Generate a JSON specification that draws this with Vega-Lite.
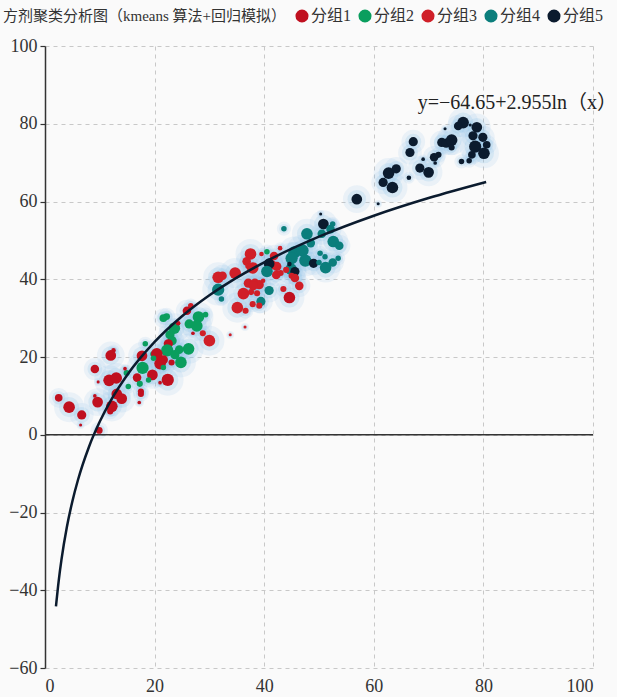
{
  "$schema": "https://vega.github.io/schema/vega-lite/v6.json",
  "width": 548,
  "height": 622,
  "autosize": {"type": "none"},
  "padding": {"left": 45, "top": 46, "right": 24, "bottom": 29},
  "background": "#fafafa",
  "config": {
    "font": "Liberation Serif, Noto Sans CJK SC",
    "view": {"stroke": null},
    "axisX": {"grid": true, "gridColor": "#c8c8c8", "gridDash": [4, 4], "domain": false, "ticks": false, "labelFontSize": 18, "labelColor": "#333333", "labelPadding": 9},
    "axisY": {"grid": true, "gridColor": "#c8c8c8", "gridDash": [4, 4], "domain": true, "domainColor": "#333333", "domainWidth": 1.5, "ticks": true, "tickColor": "#333333", "tickSize": 5, "tickWidth": 1.2, "labelFontSize": 18, "labelColor": "#333333", "labelPadding": 3}
  },
  "datasets": {
    "pts": [
      {"x":12.5,"y":21.7,"g":"分组1","w":1.5},{"x":12.0,"y":20.4,"g":"分组1","w":3.5},{"x":18.3,"y":23.4,"g":"分组2","w":1.8},{"x":17.7,"y":20.3,"g":"分组1","w":3.5},
      {"x":19.7,"y":20.8,"g":"分组2","w":1.8},{"x":17.8,"y":17.2,"g":"分组2","w":4},{"x":9.1,"y":16.9,"g":"分组1","w":2.8},{"x":11.7,"y":14.0,"g":"分组1","w":3.8},
      {"x":13.0,"y":14.6,"g":"分组1","w":3.8},{"x":9.7,"y":13.6,"g":"分组1","w":1},{"x":14.9,"y":15.9,"g":"分组2","w":2},{"x":15.2,"y":12.4,"g":"分组2","w":1.8},
      {"x":16.8,"y":14.7,"g":"分组1","w":2.8},{"x":19.6,"y":15.4,"g":"分组1","w":3.5},{"x":17.3,"y":13.1,"g":"分组2","w":2},{"x":17.5,"y":11.1,"g":"分组1","w":2},
      {"x":17.5,"y":10.5,"g":"分组1","w":2},{"x":13.1,"y":10.5,"g":"分组1","w":3.5},{"x":14.0,"y":9.3,"g":"分组1","w":3.5},{"x":9.1,"y":10.0,"g":"分组1","w":1.2},
      {"x":2.5,"y":9.5,"g":"分组1","w":2.5},{"x":9.6,"y":8.4,"g":"分组1","w":3.5},{"x":4.4,"y":7.1,"g":"分组1","w":3.8},{"x":12.2,"y":7.3,"g":"分组1","w":3.8},
      {"x":6.7,"y":5.1,"g":"分组1","w":3},{"x":6.5,"y":2.5,"g":"分组1","w":1},{"x":11.9,"y":6.0,"g":"分组1","w":2},{"x":9.9,"y":1.1,"g":"分组1","w":2.2},
      {"x":17.2,"y":8.3,"g":"分组1","w":1.2},{"x":26.6,"y":33.2,"g":"分组3","w":1.8},{"x":25.9,"y":31.9,"g":"分组1","w":2.8},{"x":28.0,"y":30.3,"g":"分组2","w":3.8},
      {"x":29.3,"y":30.9,"g":"分组2","w":1.8},{"x":22.2,"y":30.4,"g":"分组2","w":2.2},{"x":21.6,"y":30.0,"g":"分组2","w":2.5},{"x":26.3,"y":28.5,"g":"分组2","w":3},
      {"x":27.7,"y":28.0,"g":"分组2","w":3.8},{"x":23.6,"y":27.4,"g":"分组2","w":3.8},{"x":24.3,"y":28.7,"g":"分组1","w":1.5},{"x":22.8,"y":25.7,"g":"分组2","w":3},
      {"x":23.2,"y":24.2,"g":"分组2","w":3},{"x":22.5,"y":23.4,"g":"分组1","w":3},{"x":27.0,"y":26.1,"g":"分组1","w":1.2},{"x":28.8,"y":26.1,"g":"分组3","w":2},
      {"x":30.0,"y":24.2,"g":"分组3","w":3.8},{"x":26.2,"y":22.1,"g":"分组2","w":3.8},{"x":24.5,"y":21.9,"g":"分组2","w":2.8},{"x":22.3,"y":21.7,"g":"分组2","w":4},
      {"x":23.7,"y":20.6,"g":"分组2","w":3},{"x":20.4,"y":20.8,"g":"分组1","w":3.8},{"x":21.6,"y":19.3,"g":"分组1","w":3},{"x":21.0,"y":18.3,"g":"分组1","w":3.8},
      {"x":23.1,"y":18.6,"g":"分组1","w":2},{"x":24.8,"y":18.6,"g":"分组2","w":3.8},{"x":19.8,"y":19.7,"g":"分组2","w":1.8},{"x":21.6,"y":17.3,"g":"分组2","w":1.8},
      {"x":22.4,"y":14.1,"g":"分组1","w":4},{"x":18.9,"y":14.1,"g":"分组2","w":1.8},{"x":21.0,"y":13.4,"g":"分组1","w":1.2},{"x":14.6,"y":17.0,"g":"分组1","w":1.2},
      {"x":37.5,"y":46.5,"g":"分组3","w":3.8},{"x":40.5,"y":47.1,"g":"分组2","w":1.8},{"x":39.5,"y":46.5,"g":"分组3","w":1.5},{"x":42.9,"y":48.0,"g":"分组3","w":1.5},
      {"x":41.8,"y":46.0,"g":"分组3","w":2.8},{"x":45.5,"y":46.9,"g":"分组4","w":4},{"x":47.0,"y":47.4,"g":"分组4","w":4},{"x":47.5,"y":44.8,"g":"分组4","w":4},
      {"x":45.0,"y":45.4,"g":"分组4","w":4},{"x":36.8,"y":44.6,"g":"分组3","w":2.8},{"x":37.1,"y":43.4,"g":"分组3","w":2},{"x":37.9,"y":42.9,"g":"分组3","w":3.8},
      {"x":41.4,"y":43.7,"g":"分组3","w":3},{"x":42.3,"y":43.3,"g":"分组3","w":3},{"x":40.9,"y":44.0,"g":"分组5","w":3.5},{"x":40.5,"y":42.0,"g":"分组4","w":3.8},
      {"x":44.9,"y":42.6,"g":"分组4","w":3.8},{"x":45.6,"y":42.0,"g":"分组5","w":3},{"x":42.2,"y":41.1,"g":"分组3","w":2.8},{"x":43.0,"y":41.6,"g":"分组3","w":2},
      {"x":44.0,"y":42.4,"g":"分组3","w":2},{"x":31.6,"y":40.5,"g":"分组3","w":3.8},{"x":32.4,"y":40.9,"g":"分组3","w":2.8},{"x":34.7,"y":41.6,"g":"分组3","w":3.8},
      {"x":45.0,"y":40.9,"g":"分组3","w":2},{"x":46.4,"y":38.3,"g":"分组3","w":2.8},{"x":37.1,"y":39.0,"g":"分组3","w":3},{"x":38.3,"y":39.0,"g":"分组3","w":3},
      {"x":39.1,"y":38.6,"g":"分组3","w":3},{"x":38.0,"y":38.3,"g":"分组3","w":3},{"x":31.6,"y":37.3,"g":"分组4","w":4},{"x":39.8,"y":39.6,"g":"分组3","w":1.5},
      {"x":40.9,"y":37.1,"g":"分组4","w":3},{"x":43.5,"y":37.5,"g":"分组3","w":2},{"x":37.6,"y":36.7,"g":"分组3","w":2},{"x":38.7,"y":36.4,"g":"分组3","w":2},
      {"x":36.2,"y":36.3,"g":"分组3","w":3.8},{"x":32.2,"y":34.9,"g":"分组4","w":1.8},{"x":39.4,"y":34.3,"g":"分组4","w":3},{"x":44.6,"y":35.3,"g":"分组1","w":3.8},
      {"x":37.9,"y":33.6,"g":"分组3","w":2},{"x":39.1,"y":33.2,"g":"分组3","w":2},{"x":35.1,"y":32.7,"g":"分组3","w":3.8},{"x":36.6,"y":31.9,"g":"分组3","w":2},
      {"x":36.5,"y":27.7,"g":"分组3","w":1},{"x":33.8,"y":25.7,"g":"分组3","w":1},{"x":50.3,"y":56.8,"g":"分组5","w":1},{"x":50.8,"y":54.2,"g":"分组5","w":3.5},
      {"x":52.1,"y":52.9,"g":"分组4","w":2.8},{"x":52.5,"y":54.2,"g":"分组4","w":1.8},{"x":43.6,"y":53.0,"g":"分组4","w":1.8},{"x":47.8,"y":51.7,"g":"分组4","w":3.8},
      {"x":50.5,"y":51.7,"g":"分组4","w":2.8},{"x":52.6,"y":49.7,"g":"分组4","w":3.8},{"x":53.7,"y":48.6,"g":"分组4","w":2.8},{"x":48.5,"y":49.3,"g":"分组4","w":2.8},
      {"x":50.2,"y":46.7,"g":"分组4","w":1.8},{"x":51.1,"y":45.8,"g":"分组4","w":1.8},{"x":49.0,"y":44.1,"g":"分组5","w":3},{"x":50.0,"y":44.3,"g":"分组4","w":1.8},
      {"x":52.5,"y":44.3,"g":"分组4","w":2.8},{"x":51.2,"y":43.0,"g":"分组4","w":3.8},{"x":44.6,"y":43.9,"g":"分组5","w":1.5},{"x":53.5,"y":45.4,"g":"分组4","w":1.8},
      {"x":45.6,"y":40.3,"g":"分组3","w":2.8},{"x":76.3,"y":80.3,"g":"分组5","w":3.8},{"x":75.4,"y":79.4,"g":"分组5","w":2.8},{"x":77.6,"y":79.7,"g":"分组5","w":1},
      {"x":73.0,"y":78.7,"g":"分组5","w":1},{"x":78.8,"y":79.1,"g":"分组5","w":3.5},{"x":78.1,"y":76.9,"g":"分组5","w":3},{"x":79.9,"y":76.5,"g":"分组5","w":3},
      {"x":78.5,"y":74.1,"g":"分组5","w":4},{"x":80.6,"y":74.6,"g":"分组5","w":2.5},{"x":77.9,"y":72.0,"g":"分组5","w":2.5},{"x":80.1,"y":72.4,"g":"分组5","w":3.8},
      {"x":76.0,"y":70.3,"g":"分组5","w":1.8},{"x":77.4,"y":70.5,"g":"分组5","w":1.8},{"x":67.2,"y":75.4,"g":"分组5","w":3},{"x":66.6,"y":72.6,"g":"分组5","w":3},
      {"x":72.4,"y":75.2,"g":"分组5","w":3},{"x":73.2,"y":75.0,"g":"分组5","w":3},{"x":74.2,"y":75.8,"g":"分组5","w":3.8},{"x":74.2,"y":73.9,"g":"分组5","w":2},
      {"x":71.8,"y":72.0,"g":"分组5","w":2},{"x":71.0,"y":71.4,"g":"分组5","w":2.8},{"x":71.2,"y":69.9,"g":"分组5","w":1.2},{"x":69.0,"y":70.9,"g":"分组5","w":1.2},
      {"x":68.4,"y":68.6,"g":"分组5","w":3},{"x":70.0,"y":67.5,"g":"分组5","w":3.5},{"x":62.7,"y":67.3,"g":"分组5","w":3.8},{"x":64.1,"y":68.4,"g":"分组5","w":3},
      {"x":61.7,"y":64.9,"g":"分组5","w":3},{"x":63.4,"y":63.6,"g":"分组5","w":3.8},{"x":66.4,"y":66.1,"g":"分组5","w":1.5},{"x":56.9,"y":60.6,"g":"分组5","w":3.5},
      {"x":60.8,"y":59.4,"g":"分组5","w":1}
    ],
    "curve": [
      {"x":2,"y":-44.17},{"x":2.5,"y":-37.57},{"x":3,"y":-32.19},{"x":4,"y":-23.68},{"x":5,"y":-17.09},{"x":6,"y":-11.70},
      {"x":8,"y":-3.20},{"x":10,"y":3.39},{"x":12,"y":8.78},{"x":15,"y":15.37},{"x":20,"y":23.87},{"x":25,"y":30.47},
      {"x":30,"y":35.86},{"x":35,"y":40.41},{"x":40,"y":44.36},{"x":50,"y":50.95},{"x":60,"y":56.34},{"x":70,"y":60.89},{"x":80.5,"y":65.02}
    ],
    "zero": [{"y": 0}],
    "eq": [{"x": 86.2, "y": 85.3, "t": "y=−64.65+2.955ln（x）"}]
  },
  "layer": [
    {
      "data": {"name": "pts"},
      "mark": {"type": "circle", "color": "#8cc2ea", "opacity": 0.14},
      "encoding": {
        "x": {"field": "x", "type": "quantitative", "title": null, "scale": {"domain": [0, 100], "nice": false, "zero": false}, "axis": {"values": [0, 20, 40, 60, 80, 100]}},
        "y": {"field": "y", "type": "quantitative", "title": null, "scale": {"domain": [-60, 100], "nice": false, "zero": false}, "axis": {"values": [-60, -40, -20, 0, 20, 40, 60, 80, 100]}},
        "size": {"field": "w", "type": "quantitative", "legend": null, "scale": {"type": "pow", "exponent": 2, "domain": [0, 4], "range": [0, 1000]}}
      }
    },
    {
      "data": {"name": "pts"},
      "mark": {"type": "circle", "color": "#8cc2ea", "opacity": 0.22},
      "encoding": {
        "x": {"field": "x", "type": "quantitative", "title": null},
        "y": {"field": "y", "type": "quantitative", "title": null},
        "size": {"field": "w", "type": "quantitative", "legend": null, "scale": {"type": "pow", "exponent": 2, "domain": [0, 4], "range": [0, 450]}}
      }
    },
    {
      "data": {"name": "pts"},
      "mark": {"type": "circle", "opacity": 1},
      "encoding": {
        "x": {"field": "x", "type": "quantitative", "title": null},
        "y": {"field": "y", "type": "quantitative", "title": null},
        "size": {"field": "w", "type": "quantitative", "legend": null, "scale": {"type": "pow", "exponent": 2, "domain": [0, 4], "range": [0, 150]}},
        "color": {
          "field": "g", "type": "nominal",
          "scale": {"domain": ["分组1", "分组2", "分组3", "分组4", "分组5"], "range": ["#c0101f", "#0a9e5e", "#d01f28", "#0b7e7c", "#0b1b2e"]},
          "legend": {
            "orient": "none", "legendX": -42, "legendY": -38, "direction": "horizontal", "columns": 5,
            "title": "方剂聚类分析图（kmeans 算法+回归模拟）", "titleOrient": "left", "titleFontSize": 15, "titleFontWeight": "normal", "titleColor": "#333333", "titlePadding": 7, "titleLimit": 500,
            "labelFontSize": 16, "labelColor": "#333333", "labelOffset": 1, "columnPadding": 5,
            "symbolType": "circle", "symbolSize": 170, "symbolOpacity": 1, "symbolStrokeWidth": 0
          }
        }
      }
    },
    {
      "data": {"name": "zero"},
      "mark": {"type": "rule", "color": "#333333", "strokeWidth": 1.5},
      "encoding": {"y": {"field": "y", "type": "quantitative", "title": null}}
    },
    {
      "data": {"name": "curve"},
      "mark": {"type": "line", "color": "#0b1b2e", "strokeWidth": 2.5, "interpolate": "monotone"},
      "encoding": {
        "x": {"field": "x", "type": "quantitative", "title": null},
        "y": {"field": "y", "type": "quantitative", "title": null}
      }
    },
    {
      "data": {"name": "eq"},
      "mark": {"type": "text", "fontSize": 20, "color": "#222222", "align": "center", "baseline": "middle"},
      "encoding": {
        "x": {"field": "x", "type": "quantitative", "title": null},
        "y": {"field": "y", "type": "quantitative", "title": null},
        "text": {"field": "t"}
      }
    }
  ],
  "resolve": {"scale": {"size": "independent"}}
}
